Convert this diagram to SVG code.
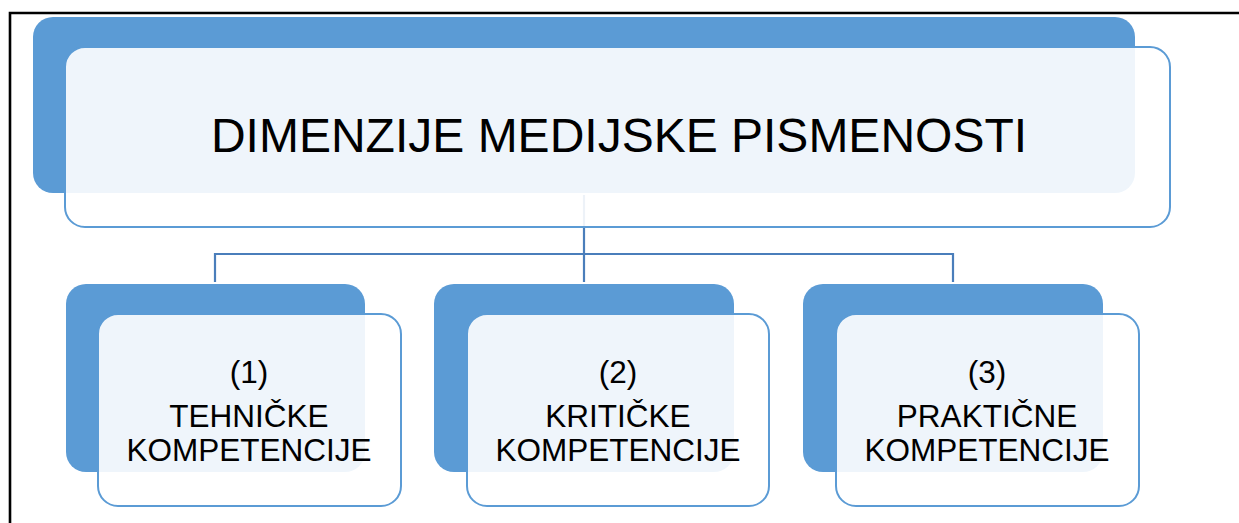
<svg xmlns="http://www.w3.org/2000/svg" width="1239" height="523" viewBox="0 0 1239 523">
<style>
.back{fill:#5B9BD5}
.front{fill:#FFFFFF;fill-opacity:0.9;stroke:#5B9BD5;stroke-width:2}
.conn{fill:none;stroke:#4A7EBB;stroke-width:2.2}
.t{font-family:"Liberation Sans",Arial,sans-serif;fill:#000;text-anchor:middle}
.title{font-size:48px}
.sub{font-size:31.5px}
</style>
<rect width="1239" height="523" fill="#FFFFFF"/>
<g id="frame">
<path d="M10,523 V13 H1239" fill="none" stroke="#000" stroke-width="2.6"/>
</g>
<g id="node-top-back">
<rect class="back" x="33" y="17" width="1102" height="176" rx="20"/>
</g>
<g id="connectors">
<path class="conn" d="M584,195 V254"/>
<path class="conn" d="M215,282 V254 H953 V282"/>
<path class="conn" d="M584,254 V282"/>
</g>
<g id="node-top">
<rect class="front" x="65" y="47" width="1105" height="180" rx="20"/>
<text class="t title" x="619" y="152">DIMENZIJE MEDIJSKE PISMENOSTI</text>
</g>
<g id="node-1">
<rect class="back" x="66" y="284" width="299" height="188" rx="20"/>
<rect class="front" x="98" y="314" width="303" height="192" rx="20"/>
<text class="t sub" x="249" y="383">(1)</text>
<text class="t sub" x="249" y="427">TEHNIČKE</text>
<text class="t sub" x="249" y="461">KOMPETENCIJE</text>
</g>
<g id="node-2">
<rect class="back" x="434" y="284" width="300" height="188" rx="20"/>
<rect class="front" x="467" y="314" width="302" height="192" rx="20"/>
<text class="t sub" x="618" y="383">(2)</text>
<text class="t sub" x="618" y="427">KRITIČKE</text>
<text class="t sub" x="618" y="461">KOMPETENCIJE</text>
</g>
<g id="node-3">
<rect class="back" x="803" y="284" width="300" height="188" rx="20"/>
<rect class="front" x="836" y="314" width="303" height="192" rx="20"/>
<text class="t sub" x="987" y="383">(3)</text>
<text class="t sub" x="987" y="427">PRAKTIČNE</text>
<text class="t sub" x="987" y="461">KOMPETENCIJE</text>
</g>
</svg>
